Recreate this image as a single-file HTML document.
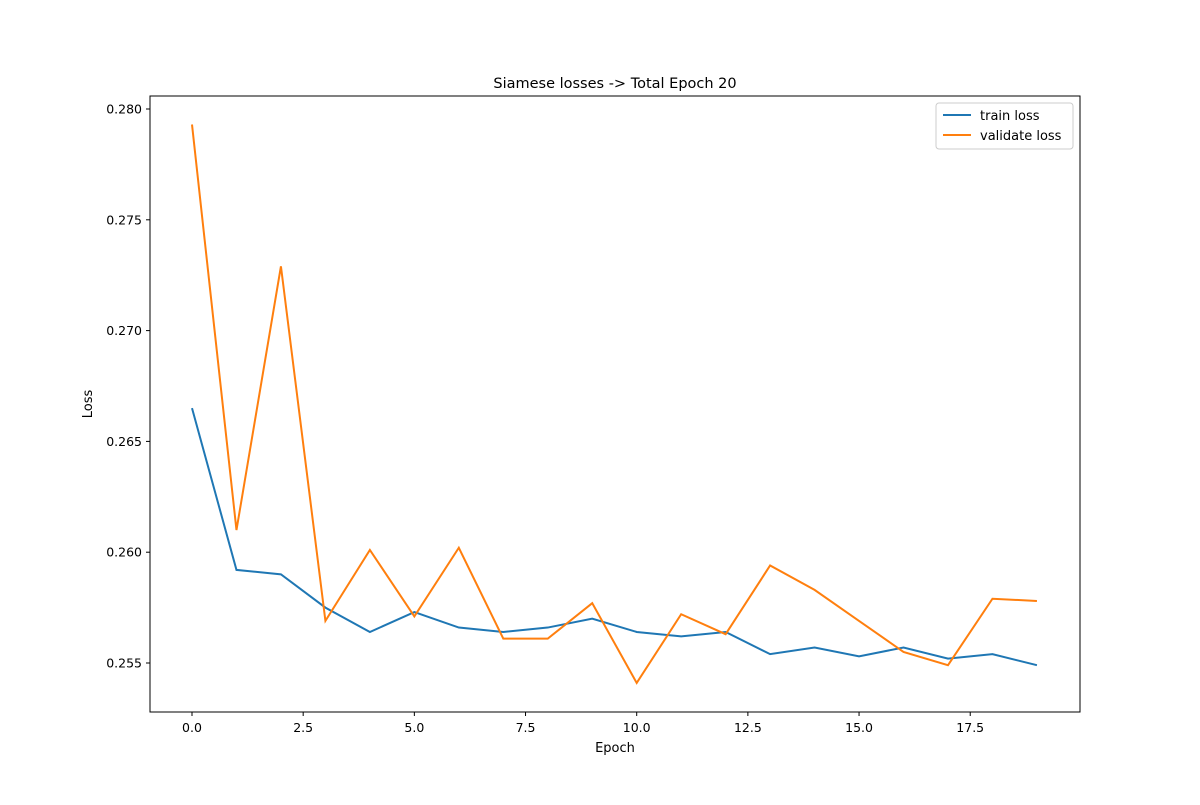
<!DOCTYPE html>
<html><head><meta charset="utf-8"><style>
body{margin:0;background:#fff;}
svg text{font-family:"DejaVu Sans","Liberation Sans",sans-serif;fill:#000;}
</style></head><body>
<svg id="chart" width="1200" height="800" xmlns="http://www.w3.org/2000/svg">
<rect width="1200" height="800" fill="#fff"/>
<text x="615" y="88" font-size="14.5" text-anchor="middle">Siamese losses -&gt; Total Epoch 20</text>
<g id="marks"></g>
<rect x="150" y="96" width="930" height="616" fill="none" stroke="#000" stroke-width="1"/>
<text x="615" y="752" font-size="13" text-anchor="middle">Epoch</text>
<text x="92" y="404" font-size="13" text-anchor="middle" transform="rotate(-90 92 404)">Loss</text>
<g>
<rect x="936" y="103" width="137" height="46" rx="3" fill="#fff" stroke="#ccc"/>
<line x1="943" y1="115" x2="971" y2="115" stroke="#1f77b4" stroke-width="2"/>
<text x="980" y="120" font-size="13">train loss</text>
<line x1="943" y1="135" x2="971" y2="135" stroke="#ff7f0e" stroke-width="2"/>
<text x="980" y="140" font-size="13">validate loss</text>
</g>
</svg>
<script>
const epochs=[0,1,2,3,4,5,6,7,8,9,10,11,12,13,14,15,16,17,18,19];
const trainLoss=[0.2665,0.2592,0.2590,0.2575,0.2564,0.2573,0.2566,0.2564,0.2566,0.2570,0.2564,0.2562,0.2564,0.2554,0.2557,0.2553,0.2557,0.2552,0.2554,0.2549];
const valLoss=[0.2793,0.2610,0.2729,0.2569,0.2601,0.2571,0.2602,0.2561,0.2561,0.2577,0.2541,0.2572,0.2563,0.2594,0.2583,0.2569,0.2555,0.2549,0.2579,0.2578];
const xTicks=[0,2.5,5,7.5,10,12.5,15,17.5];
const xTickLabels=["0.0","2.5","5.0","7.5","10.0","12.5","15.0","17.5"];
const yTicks=[0.255,0.260,0.265,0.270,0.275,0.280];
const yTickLabels=["0.255","0.260","0.265","0.270","0.275","0.280"];
const X=v=>192+v*44.47;
const Y=v=>663-(v-0.255)*(663-109)/0.025;
const NS="http://www.w3.org/2000/svg";
const g=document.getElementById('marks');
function mk(t,a){const e=document.createElementNS(NS,t);for(const k in a)e.setAttribute(k,a[k]);g.appendChild(e);return e;}
xTicks.forEach((t,i)=>{
 const l=mk('line',{x1:X(t),x2:X(t),y1:712,y2:716,stroke:'#000'});
 
 
 const tx=mk('text',{x:X(t),y:732,'font-size':12.5,'text-anchor':'middle'});tx.textContent=xTickLabels[i];
 
 
});
yTicks.forEach((t,i)=>{
 const l=mk('line',{x1:146,x2:150,y1:Y(t),y2:Y(t),stroke:'#000'});
 
 
 const tx=mk('text',{x:142,y:Y(t)+4.5,'font-size':12.5,'text-anchor':'end'});tx.textContent=yTickLabels[i];
 
 
});
const tl=mk('polyline',{points:epochs.map((e,i)=>X(e)+','+Y(trainLoss[i])).join(' '),fill:'none',stroke:'#1f77b4','stroke-width':2});


const vl=mk('polyline',{points:epochs.map((e,i)=>X(e)+','+Y(valLoss[i])).join(' '),fill:'none',stroke:'#ff7f0e','stroke-width':2});


</script>
</body></html>
